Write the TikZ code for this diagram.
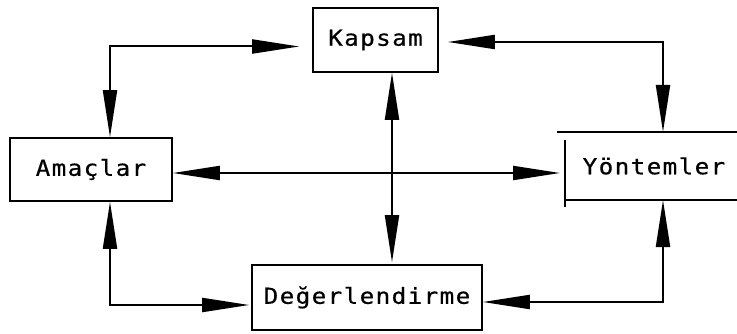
\documentclass[tikz,border=0pt]{standalone}
\usepackage{fontspec}
\newfontfamily\plotfont[FakeStretch=1.1,LetterSpace=6.5,FakeBold=0.5]{DejaVu Sans Mono}
\usetikzlibrary{arrows.meta,calc}
\begin{document}
\begin{tikzpicture}[x=1pt,y=-1pt,
  label/.style={inner sep=0pt, font=\plotfont\fontsize{22}{26}\selectfont},
  box/.style={label, draw, line width=1.6pt, rectangle},
  edge/.style={line width=1.6pt},
  link/.style={line width=2pt,
    {Triangle[length=47pt,width=14pt]}-{Triangle[length=47pt,width=14pt]}},
]
\useasboundingbox (0,0) rectangle (737,334);
\clip (0,0) rectangle (737,334);

% boxes
\node[box, minimum width=125pt, minimum height=64pt] (kap) at (375.5,40) {Kapsam};
\node[box, minimum width=162pt, minimum height=63pt] (ama) at (91,169.5) {Amaçlar};
\node[box, minimum width=230pt, minimum height=65pt] (deg) at (367,297.5) {Değerlendirme};

% the right-hand box runs off the edge: only its top, left and bottom show
\node[label] (yon) at (654,166) {Yöntemler};
\draw[edge] (557,132) -- (737,132);
\draw[edge] (565,140) -- (565,207);
\draw[edge] (565,200) -- (737,200);
\coordinate (yonTop) at (663,132);
\coordinate (yonBot) at (663,200);
\coordinate (yonLeft) at (560,173);

% two-way connectors
\draw[link] ([xshift=-13pt,yshift=-6.5pt]kap.west) -| ([xshift=19pt]ama.north);
\draw[link] ([xshift=9pt,yshift=-2pt]kap.east) -| (yonTop);
\draw[link] ([yshift=-3.5pt]ama.east) -- (yonLeft);
\draw[link] ([xshift=16.5pt]kap.south) -- ([xshift=25pt,yshift=2pt]deg.north);
\draw[link] ([xshift=19pt]ama.south) |- ([xshift=-2pt,yshift=-7.5pt]deg.west);
\draw[link] (yonBot) |- ([yshift=-4.5pt]deg.east);
\end{tikzpicture}
\end{document}
